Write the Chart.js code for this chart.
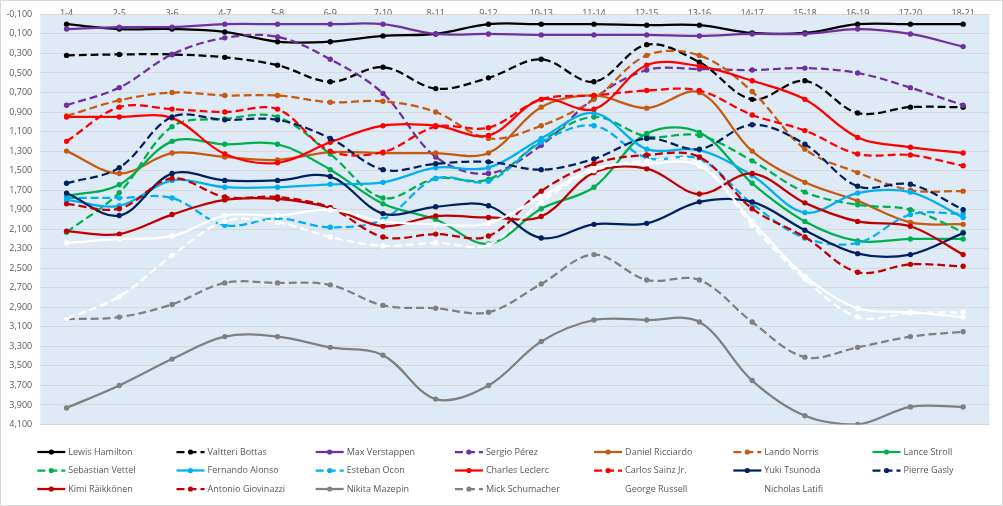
<!DOCTYPE html>
<html><head><meta charset="utf-8">
<script src="https://cdn.jsdelivr.net/npm/chart.js@4.4.1/dist/chart.umd.min.js"></script>
<style>
html,body{margin:0;padding:0;background:#fff;}
#wrap{width:1003px;height:506px;box-sizing:border-box;border:1px solid #d9d9d9;background:#fff;}
canvas{display:block;}
</style></head><body>
<div id="wrap"><canvas id="c" width="1001" height="504"></canvas></div>
<script>
const categories = ["1-4","2-5","3-6","4-7","5-8","6-9","7-10","8-11","9-12","10-13","11-14","12-15","13-16","14-17","15-18","16-19","17-20","18-21"];
const yTickValues = [-0.1,0.1,0.3,0.5,0.7,0.9,1.1,1.3,1.5,1.7,1.9,2.1,2.3,2.5,2.7,2.9,3.1,3.3,3.5,3.7,3.9,4.1];

const hamilton   = [0.00,0.05,0.05,0.08,0.18,0.18,0.12,0.10,0.00,0.00,0.00,0.01,0.01,0.09,0.09,0.00,0.00,0.00];
const bottas     = [0.32,0.31,0.31,0.34,0.42,0.59,0.44,0.66,0.55,0.36,0.59,0.21,0.39,0.77,0.58,0.91,0.85,0.85];
const verstappen = [0.05,0.03,0.03,0.00,0.00,0.00,0.00,0.10,0.10,0.11,0.11,0.11,0.12,0.10,0.10,0.05,0.10,0.23];
const perez      = [0.83,0.65,0.31,0.14,0.13,0.36,0.71,1.36,1.53,1.24,0.76,0.47,0.46,0.47,0.45,0.50,0.65,0.83];
const ricciardo  = [1.30,1.53,1.32,1.36,1.39,1.31,1.32,1.32,1.32,0.85,0.73,0.86,0.70,1.30,1.62,1.81,2.03,2.05];
const norris     = [0.94,0.78,0.70,0.73,0.73,0.80,0.79,0.90,1.17,1.04,0.77,0.32,0.32,0.69,1.28,1.52,1.70,1.71];
const stroll     = [1.76,1.645,1.20,1.23,1.23,1.49,1.84,2.00,2.25,1.89,1.67,1.12,1.11,1.63,2.02,2.22,2.20,2.20];
const vettel     = [2.13,1.725,1.05,0.97,0.95,1.33,1.78,1.58,1.59,1.20,0.95,1.15,1.14,1.40,1.72,1.85,1.90,2.13];
const alonso     = [1.80,1.86,1.60,1.67,1.67,1.64,1.62,1.47,1.47,1.17,0.91,1.28,1.29,1.55,1.93,1.73,1.72,1.98];
const ocon       = [1.78,1.78,1.78,2.06,1.99,2.08,2.00,1.58,1.61,1.21,1.04,1.37,1.38,1.84,2.19,2.24,1.95,1.94];
const leclerc    = [0.95,0.95,0.96,1.33,1.42,1.21,1.04,1.04,1.14,0.77,0.87,0.42,0.43,0.58,0.77,1.16,1.26,1.32];
const sainz      = [1.20,0.85,0.87,0.90,0.87,1.30,1.31,1.05,1.06,0.77,0.73,0.68,0.68,0.93,1.09,1.33,1.34,1.45];
const tsunoda    = [1.73,1.96,1.53,1.60,1.60,1.56,1.94,1.87,1.86,2.19,2.05,2.04,1.82,1.82,2.11,2.35,2.36,2.14];
const gasly      = [1.63,1.47,0.95,0.98,0.98,1.17,1.49,1.43,1.41,1.49,1.38,1.17,1.28,1.03,1.23,1.66,1.64,1.90];
const raikkonen  = [2.12,2.15,1.95,1.80,1.79,1.88,2.07,1.965,1.98,1.97,1.52,1.48,1.74,1.53,1.83,2.02,2.07,2.36];
const giovinazzi = [1.84,1.89,1.58,1.77,1.77,1.88,2.18,2.15,2.17,1.71,1.43,1.34,1.36,1.89,2.18,2.54,2.46,2.48];
const mazepin    = [3.93,3.70,3.43,3.20,3.20,3.31,3.39,3.84,3.70,3.25,3.03,3.03,3.05,3.65,4.01,4.10,3.92,3.92];
const schumacher = [3.02,3.00,2.87,2.65,2.65,2.67,2.88,2.91,2.95,2.66,2.36,2.62,2.62,3.05,3.41,3.31,3.20,3.15];
const russell    = [2.24,2.20,2.17,1.96,1.96,1.90,2.02,2.05,2.04,1.77,1.48,1.43,1.45,2.02,2.58,2.91,2.95,3.00];
const latifi     = [3.02,2.79,2.37,2.02,2.03,2.18,2.27,2.24,2.26,1.82,1.50,1.40,1.42,2.06,2.61,3.00,2.96,2.95];

const seriesNames = ["Lewis Hamilton","Valtteri Bottas","Max Verstappen","Sergio Pérez","Daniel Ricciardo","Lando Norris","Lance Stroll",
  "Sebastian Vettel","Fernando Alonso","Esteban Ocon","Charles Leclerc","Carlos Sainz Jr.","Yuki Tsunoda","Pierre Gasly",
  "Kimi Räikkönen","Antonio Giovinazzi","Nikita Mazepin","Mick Schumacher","George Russell","Nicholas Latifi"];
const seriesValues = [hamilton,bottas,verstappen,perez,ricciardo,norris,stroll,vettel,alonso,ocon,leclerc,sainz,tsunoda,gasly,raikkonen,giovinazzi,mazepin,schumacher,russell,latifi];
const seriesColors = ["#000000","#000000","#7030A0","#7030A0","#C55A11","#C55A11","#00B050",
  "#00B050","#00B0F0","#00B0F0","#FF0000","#FF0000","#002060","#002060",
  "#C00000","#C00000","#808080","#808080","#FFFFFF","#FFFFFF"];
const seriesDashed = [false,true,false,true,false,true,false, true,false,true,false,true,false,true, false,true,false,true,false,true];

const FONT = "'Open Sans', sans-serif";
const TEXT = '#595959';
const DASH = [8,4];

const plotBg = {
  id:'plotBg',
  beforeDraw(chart){
    const {ctx, chartArea:a} = chart;
    ctx.save();
    ctx.fillStyle = '#DEEBF7';
    ctx.fillRect(a.left, a.top, a.right - a.left, a.bottom - a.top);
    ctx.restore();
  }
};

const gridLegend = {
  id:'gridLegend',
  afterDraw(chart){
    const ctx = chart.ctx;
    ctx.save();
    chart.data.datasets.forEach((ds, i) => {
      const col = i % 7, row = Math.floor(i / 7);
      const x0 = 36.3 + col * 139.2;
      const y = 451 + row * 18.5;
      ctx.strokeStyle = ds.borderColor;
      ctx.lineWidth = 2.25;
      ctx.setLineDash(ds.borderDash || []);
      ctx.beginPath(); ctx.moveTo(x0, y); ctx.lineTo(x0 + 28, y); ctx.stroke();
      ctx.setLineDash([]);
      ctx.fillStyle = ds.borderColor;
      ctx.beginPath(); ctx.arc(x0 + 14, y, 2.6, 0, Math.PI * 2); ctx.fill();
      ctx.fillStyle = TEXT;
      ctx.font = "9px " + FONT;
      ctx.textBaseline = 'middle';
      ctx.textAlign = 'left';
      ctx.fillText(ds.label, x0 + 31, y);
    });
    ctx.restore();
  }
};

const datasets = seriesNames.map((name, i) => ({
  label: name,
  data: seriesValues[i],
  borderColor: seriesColors[i],
  backgroundColor: seriesColors[i],
  pointBackgroundColor: seriesColors[i],
  pointBorderWidth: 0,
  pointRadius: 2.7,
  borderWidth: 2.25,
  borderDash: seriesDashed[i] ? DASH : [],
  tension: 0.35,
  fill: false,
  order: -i
}));

new Chart(document.getElementById('c'), {
  type: 'line',
  data: { labels: categories, datasets },
  options: {
    responsive: false,
    animation: false,
    layout: { padding: { left: 0, right: 12.5, top: 0, bottom: 80.5 } },
    plugins: { legend: { display: false }, tooltip: { enabled: false } },
    scales: {
      x: {
        type: 'category',
        position: 'top',
        offset: true,
        grid: { display: false, drawTicks: false },
        border: { display: false },
        ticks: { color: TEXT, font: { family: FONT, size: 9 }, padding: -4, maxRotation: 0, autoSkip: false },
        afterFit(scale){ scale.height = 13.3; }
      },
      y: {
        type: 'linear',
        position: 'left',
        reverse: true,
        min: -0.1,
        max: 4.1,
        grid: { color: '#D9D9D9', lineWidth: 1, drawTicks: false },
        border: { display: false },
        ticks: {
          color: TEXT, font: { family: FONT, size: 9 }, padding: 8,
          callback: v => v.toFixed(3).replace('.', ',')
        },
        afterBuildTicks(scale){ scale.ticks = yTickValues.map(v => ({ value: v })); },
        afterFit(scale){ scale.width = 39.2; }
      }
    }
  },
  plugins: [plotBg, gridLegend]
});
</script>
</body></html>
